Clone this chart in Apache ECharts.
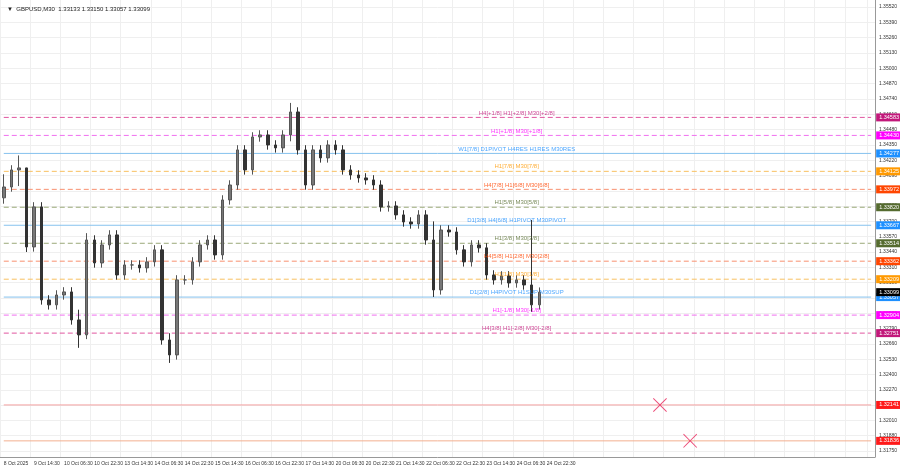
<!DOCTYPE html>
<html>
<head>
<meta charset="utf-8">
<script src="https://cdn.jsdelivr.net/npm/echarts@6/dist/echarts.min.js"></script>
<style>
html,body{margin:0;padding:0;background:#fff;}
#main{width:900px;height:468px;}
</style>
</head>
<body>
<div id="main"></div>
<script>
// tick labels on the time axis, one every 16 hours (4 candles of 4h)
var timeTicks = ['8 Oct 2025','9 Oct 14:30','10 Oct 06:30','10 Oct 22:30','13 Oct 14:30','14 Oct 06:30',
  '14 Oct 22:30','15 Oct 14:30','16 Oct 06:30','16 Oct 22:30','17 Oct 14:30','20 Oct 06:30','20 Oct 22:30',
  '21 Oct 14:30','22 Oct 06:30','22 Oct 22:30','23 Oct 14:30','24 Oct 06:30','24 Oct 22:30'];
var slotCount = 116;

// closes
var closes = [1.33992,1.34137,1.34154,1.33483,1.33823,1.33033,1.32991,1.33075,1.33101,1.32863,
  1.32736,1.33542,1.33347,1.33500,1.33585,1.33245,1.33330,1.33330,1.33305,1.33356,
  1.33458,1.32693,1.32566,1.33203,1.33203,1.33356,1.33500,1.33542,1.33415,1.33882,
  1.34009,1.34307,1.34137,1.34417,1.34434,1.34349,1.34324,1.34434,1.34629,1.34307,
  1.34009,1.34307,1.34239,1.34349,1.34307,1.34137,1.34094,1.34069,1.34052,1.34009,
  1.33823,1.33831,1.33755,1.33695,1.33678,1.33755,1.33542,1.33118,1.33627,1.33610,
  1.33458,1.33356,1.33500,1.33475,1.33245,1.33203,1.33237,1.33177,1.33203,1.33160,
  1.32991,1.33099];
var firstOpen = 1.33900;
var wick = 0.0004;
// [index, high, low] where the wicks go further
var extremes = [[0,1.34100,1.33850],[2,1.34260,1.34000],[3,1.34150,1.33440],[10,1.32950,1.32626],
  [11,1.33600,1.32700],[22,1.32750,1.32498],[38,1.34706,1.34380],[57,1.33700,1.33058],
  [70,1.33712,1.32931]];

var yLabels = [1.31750,1.31880,1.32010,1.32140,1.32270,1.32400,1.32530,1.32660,1.32790,1.32920,
  1.33050,1.33180,1.33310,1.33440,1.33570,1.33700,1.33830,1.33960,1.34090,1.34220,1.34350,
  1.34480,1.34610,1.34740,1.34870,1.35000,1.35130,1.35260,1.35390,1.35520];

// levels: value, line colour, tag colour, dashed, text
var levels = [
  [1.34583,'#e0559f','#c2187a','dashed','H4[+1/8] H1[+2/8] M30[+2/8]'],
  [1.34430,'#f070f0','#ff00ff','dashed','H1[+1/8] M30[+1/8]'],
  [1.34277,'#86c2ee','#1e90ff','solid','W1[7/8] D1PIVOT H4RES H1RES M30RES'],
  [1.34125,'#f8c060','#ff9900','dashed','H1[7/8] M30[7/8]'],
  [1.33972,'#f89070','#ff4500','dashed','H4[7/8] H1[6/8] M30[6/8]'],
  [1.33820,'#9aa878','#556b2f','dashed','H1[5/8] M30[5/8]'],
  [1.33667,'#86c2ee','#1e90ff','solid','D1[3/8] H4[6/8] H1PIVOT M30PIVOT'],
  [1.33514,'#9aa878','#556b2f','dashed','H1[3/8] M30[3/8]'],
  [1.33362,'#f89070','#ff4500','dashed','H4[5/8] H1[2/8] M30[2/8]'],
  [1.33209,'#f8c060','#ff9900','dashed','H1[1/8] M30[1/8]'],
  [1.33057,'#86c2ee','#1e90ff','solid','D1[2/8] H4PIVOT H1SUP M30SUP'],
  [1.32904,'#f070f0','#ff00ff','dashed','H1[-1/8] M30[-1/8]'],
  [1.32751,'#e0559f','#c2187a','dashed','H4[3/8] H1[-2/8] M30[-2/8]'],
  [1.32141,'#f4a0a0','#ff1a1a','solid',''],
  [1.31836,'#f4b090','#ff1a1a','solid','']
];
var lastPrice = 1.33099;
var labelSlot = 68;
// red cross markers: [slot, price]
var crosses = [[87,1.32141],[91,1.31836]];

var categories = [];
for (var i = 0; i < slotCount; i++) {
  categories.push(i % 4 === 0 && timeTicks[i / 4] ? timeTicks[i / 4] : 'c' + i);
}

var candles = [];
var prev = firstOpen;
for (var i = 0; i < closes.length; i++) {
  var o = prev, c = closes[i];
  var hi = Math.max(o, c) + wick, lo = Math.min(o, c) - wick;
  extremes.forEach(function (e) { if (e[0] === i) { hi = e[1]; lo = e[2]; } });
  candles.push([o, c, lo, hi]);
  prev = c;
}

var font = 'Liberation Sans';

var endTag = function (v, bg) {
  return {show: true, formatter: v.toFixed(5), color: '#fff', backgroundColor: bg,
    fontSize: 5.5, padding: [1, 3, 1, 3], distance: 5, fontFamily: font};
};

// each level is a flat line across the whole plot with a price tag on the axis
var levelSeries = levels.map(function (l) {
  return {
    type: 'line',
    symbol: 'none',
    silent: true,
    clip: false,
    z: 1,
    lineStyle: {color: l[1], type: l[3] === 'dashed' ? [5, 3] : 'solid', width: 1},
    endLabel: endTag(l[0], l[2]),
    data: [[0, l[0]], [slotCount - 1, l[0]]]
  };
});

// level names, written just above each line near the middle
var levelTexts = levels.filter(function (l) { return l[4] !== ''; }).map(function (l) {
  return {
    value: [labelSlot, l[0]],
    label: {show: true, position: 'top', distance: 1, formatter: l[4], color: l[2],
      fontSize: 6, fontFamily: font}
  };
});

var myChart = echarts.init(document.getElementById('main'));
var option = {
  animation: false,
  backgroundColor: '#fff',
  title: {
    text: '▼  GBPUSD,M30  1.33133 1.33150 1.33057 1.33099',
    left: 2, top: 1,
    textStyle: {fontSize: 6, fontWeight: 'normal', color: '#222', fontFamily: font}
  },
  grid: {left: 0, right: 22, top: 0, bottom: 11},
  xAxis: {
    type: 'category',
    data: categories,
    boundaryGap: true,
    axisLine: {lineStyle: {color: '#999'}},
    axisTick: {show: false},
    axisLabel: {
      interval: 0, fontSize: 5, color: '#333', align: 'left', margin: 4, fontFamily: font,
      formatter: function (v) { return v.charAt(0) === 'c' ? '' : v; }
    },
    splitLine: {show: true, interval: 3, lineStyle: {color: '#efefef'}}
  },
  yAxis: {
    type: 'value',
    position: 'right',
    min: 1.31699, max: 1.35580,
    axisLine: {show: true, lineStyle: {color: '#999'}},
    axisTick: {show: false, customValues: yLabels},
    axisLabel: {customValues: yLabels, fontSize: 5, color: '#333', margin: 4, fontFamily: font,
      formatter: function (v) { return v.toFixed(5); }},
    splitLine: {show: true, lineStyle: {color: '#efefef'}}
  },
  series: levelSeries.concat([{
    type: 'candlestick',
    data: candles,
    barWidth: 3,
    z: 2,
    itemStyle: {color: '#777', color0: '#333', borderColor: '#555', borderColor0: '#333', borderWidth: 1}
  }, {
    type: 'scatter',
    silent: true,
    z: 3,
    symbolSize: 1,
    itemStyle: {color: 'rgba(255,255,255,0)'},
    labelLayout: {hideOverlap: false},
    data: levelTexts
  }, {
    type: 'line',
    symbol: 'none',
    silent: true,
    clip: false,
    z: 3,
    lineStyle: {opacity: 0},
    endLabel: endTag(lastPrice, '#000'),
    data: [[slotCount - 2, lastPrice], [slotCount - 1, lastPrice]]
  }, {
    type: 'scatter',
    data: crosses,
    symbol: 'path://M0,1 L1,0 L10,9 L19,0 L20,1 L11,10 L20,19 L19,20 L10,11 L1,20 L0,19 L9,10 Z',
    symbolSize: 14,
    z: 4,
    itemStyle: {color: '#e8245a'}
  }])
};
myChart.setOption(option);
</script>
</body>
</html>
